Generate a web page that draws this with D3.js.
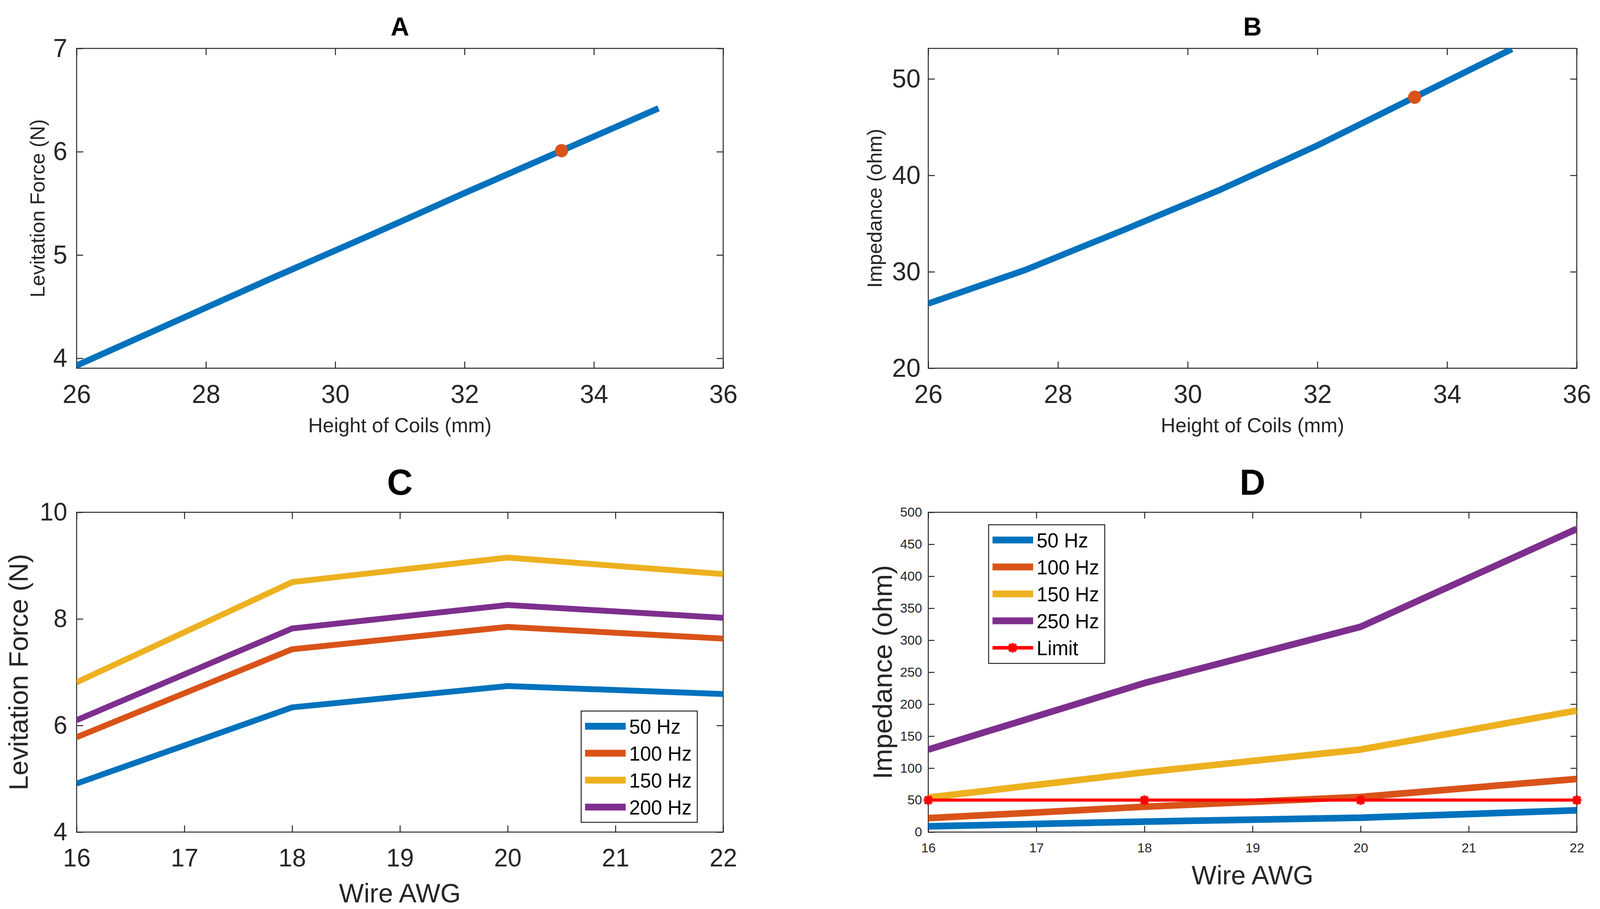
<!DOCTYPE html>
<html>
<head>
<meta charset="utf-8">
<script src="https://cdn.jsdelivr.net/npm/d3@7"></script>
<style>
  html, body { margin: 0; padding: 0; background: #fff; overflow: hidden; width: 100%; height: 100%; }
  svg { display: block; width: 100vw; height: 100vh; }
</style>
</head>
<body>
<svg id="fig"></svg>
<script>
// ---- data ----
const heightCoils = [26, 27.5, 29, 30.5, 32, 33.5, 35];
const forceA = [3.93, 4.35, 4.77, 5.18, 5.6, 6.01, 6.42];
const impedanceB = [26.7, 30.2, 34.3, 38.5, 43.1, 48.1, 53.1];
const chosenHeight = 33.5;
const chosenForce = 6.01;
const chosenImpedance = 48.1;

const wireAWG = [16, 18, 20, 22];
const forceC50 = [4.91, 6.34, 6.74, 6.59];
const forceC100 = [5.78, 7.43, 7.85, 7.63];
const forceC150 = [6.81, 8.69, 9.15, 8.84];
const forceC200 = [6.1, 7.82, 8.26, 8.02];

const impD50 = [9, 16.4, 22.5, 34];
const impD100 = [21.8, 39.6, 55, 83];
const impD150 = [54, 93.5, 129, 190];
const impD250 = [129, 233, 321, 474];
const impLimit = [50, 50, 50, 50];

const labelsC = ["50 Hz", "100 Hz", "150 Hz", "200 Hz"];
const labelsD = ["50 Hz", "100 Hz", "150 Hz", "250 Hz", "Limit"];

const ticksHeight = [26, 28, 30, 32, 34, 36];
const ticksForceA = [4, 5, 6, 7];
const ticksImpB = [20, 30, 40, 50];
const ticksAWG = [16, 17, 18, 19, 20, 21, 22];
const ticksForceC = [4, 6, 8, 10];
const ticksImpD = [0, 50, 100, 150, 200, 250, 300, 350, 400, 450, 500];

const colors = ["#0072BD", "#D95319", "#EDB120", "#7E2F8E"];
const ink = "#262626";
const font = "'Liberation Sans', Arial, sans-serif";
const fmt = d3.format("d");

const W = 4135, H = 2328;
// stretch the drawing onto whatever the viewport really is
const svg = d3.select("#fig")
  .attr("viewBox", "0 0 " + W + " " + H)
  .attr("preserveAspectRatio", "none");
svg.append("rect").attr("width", W).attr("height", H).attr("fill", "#fff");
const defs = svg.append("defs");

function panel(o) {
  const g = svg.append("g");
  const x = d3.scaleLinear().domain(o.xdom).range([o.left, o.right]);
  const y = d3.scaleLinear().domain(o.ydom).range([o.bottom, o.top]);

  const clipId = "clip" + o.title;
  defs.append("clipPath").attr("id", clipId)
    .append("rect")
    .attr("x", o.left).attr("y", o.top)
    .attr("width", o.right - o.left).attr("height", o.bottom - o.top);

  const style = (sel, size) => {
    sel.attr("font-size", size).attr("font-family", font);
    sel.select(".domain").remove();
    sel.selectAll("line").attr("stroke", ink).attr("stroke-width", 2.5);
    sel.selectAll("text").attr("fill", ink);
  };

  g.append("g")
    .attr("transform", "translate(0," + o.bottom + ")")
    .call(d3.axisBottom(x).tickValues(o.xticks).tickFormat(fmt)
      .tickSizeInner(-o.tick).tickSizeOuter(0).tickPadding(o.xpad))
    .call(style, o.tickFont);
  g.append("g")
    .attr("transform", "translate(0," + o.top + ")")
    .call(d3.axisTop(x).tickValues(o.xticks).tickSizeInner(-o.tick)
      .tickSizeOuter(0).tickFormat(""))
    .call(style, o.tickFont);
  g.append("g")
    .attr("transform", "translate(" + o.left + ",0)")
    .call(d3.axisLeft(y).tickValues(o.yticks).tickFormat(fmt)
      .tickSizeInner(-o.tick).tickSizeOuter(0).tickPadding(o.ypad))
    .call(style, o.tickFont);
  g.append("g")
    .attr("transform", "translate(" + o.right + ",0)")
    .call(d3.axisRight(y).tickValues(o.yticks).tickSizeInner(-o.tick)
      .tickSizeOuter(0).tickFormat(""))
    .call(style, o.tickFont);

  g.append("rect")
    .attr("x", o.left).attr("y", o.top)
    .attr("width", o.right - o.left).attr("height", o.bottom - o.top)
    .attr("fill", "none").attr("stroke", ink).attr("stroke-width", 2.5);

  // titles and labels
  const cx = (o.left + o.right) / 2, cy = (o.top + o.bottom) / 2;
  g.append("text").attr("x", cx).attr("y", o.titleY)
    .attr("text-anchor", "middle").attr("font-family", font)
    .attr("font-weight", "bold").attr("font-size", o.titleFont)
    .attr("fill", "#000").text(o.title);
  g.append("text").attr("x", cx).attr("y", o.xlabelY)
    .attr("text-anchor", "middle").attr("font-family", font)
    .attr("font-size", o.xlabelFont).attr("fill", ink).text(o.xlabel);
  g.append("text")
    .attr("transform", "translate(" + o.ylabelX + "," + cy + ") rotate(-90)")
    .attr("text-anchor", "middle").attr("font-family", font)
    .attr("font-size", o.ylabelFont).attr("fill", ink).text(o.ylabel);

  return { g: g, x: x, y: y, clip: "url(#" + clipId + ")" };
}

function drawLine(p, xs, ys, color, width) {
  const line = d3.line().x((d, i) => p.x(xs[i])).y((d) => p.y(d));
  p.g.append("path")
    .attr("clip-path", p.clip)
    .attr("d", line(ys))
    .attr("fill", "none")
    .attr("stroke", color)
    .attr("stroke-width", width)
    .attr("stroke-linejoin", "round");
}

// MATLAB-style '*' marker
function star(g, cx, cy, r, color) {
  const s = g.append("g").attr("transform", "translate(" + cx + "," + cy + ")")
    .attr("stroke", color).attr("stroke-width", 7);
  const k = r * 0.75;
  [[-r, 0, r, 0], [0, -r, 0, r], [-k, -k, k, k], [-k, k, k, -k]]
    .forEach((l) => s.append("line").attr("x1", l[0]).attr("y1", l[1]).attr("x2", l[2]).attr("y2", l[3]));
}

function legend(g, left, top, w, h, labels, cols, limitIdx) {
  g.append("rect").attr("x", left).attr("y", top).attr("width", w).attr("height", h)
    .attr("fill", "#fff").attr("stroke", ink).attr("stroke-width", 2.5);
  labels.forEach((lab, i) => {
    const cy = top + 39 + i * 69;
    const isLimit = i === limitIdx;
    g.append("line").attr("x1", left + 10).attr("x2", left + 115)
      .attr("y1", cy).attr("y2", cy)
      .attr("stroke", cols[i]).attr("stroke-width", isLimit ? 9 : 17.5);
    if (isLimit) star(g, left + 62, cy, 12, cols[i]);
    g.append("text").attr("x", left + 124).attr("y", cy + 19)
      .attr("font-family", font).attr("font-size", 51).attr("fill", "#000").text(lab);
  });
}

// ---- A ----
const pA = panel({
  title: "A", left: 198, right: 1869, top: 124, bottom: 943,
  xdom: [26, 36], ydom: [3.904, 7], xticks: ticksHeight, yticks: ticksForceA,
  tick: 17, tickFont: 66, xpad: 42, ypad: 24,
  titleY: 91, titleFont: 66,
  xlabel: "Height of Coils (mm)", xlabelY: 1107, xlabelFont: 52,
  ylabel: "Levitation Force (N)", ylabelX: 115, ylabelFont: 52
});
drawLine(pA, heightCoils, forceA, colors[0], 16);
pA.g.append("circle").attr("cx", pA.x(chosenHeight)).attr("cy", pA.y(chosenForce))
  .attr("r", 17).attr("fill", colors[1]);

// ---- B ----
const pB = panel({
  title: "B", left: 2399, right: 4075, top: 124, bottom: 943,
  xdom: [26, 36], ydom: [20, 53.16], xticks: ticksHeight, yticks: ticksImpB,
  tick: 17, tickFont: 66, xpad: 42, ypad: 20,
  titleY: 91, titleFont: 66,
  xlabel: "Height of Coils (mm)", xlabelY: 1107, xlabelFont: 52,
  ylabel: "Impedance (ohm)", ylabelX: 2278, ylabelFont: 52
});
drawLine(pB, heightCoils, impedanceB, colors[0], 16);
pB.g.append("circle").attr("cx", pB.x(chosenHeight)).attr("cy", pB.y(chosenImpedance))
  .attr("r", 17).attr("fill", colors[1]);

// ---- C ----
const pC = panel({
  title: "C", left: 198, right: 1869, top: 1312, bottom: 2131,
  xdom: [16, 22], ydom: [4, 10], xticks: ticksAWG, yticks: ticksForceC,
  tick: 17, tickFont: 64, xpad: 43, ypad: 24,
  titleY: 1267, titleFont: 92,
  xlabel: "Wire AWG", xlabelY: 2311, xlabelFont: 68,
  ylabel: "Levitation Force (N)", ylabelX: 72, ylabelFont: 69
});
[forceC50, forceC100, forceC150, forceC200].forEach((s, i) => drawLine(pC, wireAWG, s, colors[i], 15));
legend(pC.g, 1502, 1821, 300, 285, labelsC, colors, -1);

// ---- D ----
const pD = panel({
  title: "D", left: 2399, right: 4075, top: 1312, bottom: 2131,
  xdom: [16, 22], ydom: [0, 500], xticks: ticksAWG, yticks: ticksImpD,
  tick: 16, tickFont: 34, xpad: 28, ypad: 16,
  titleY: 1267, titleFont: 92,
  xlabel: "Wire AWG", xlabelY: 2265, xlabelFont: 68,
  ylabel: "Impedance (ohm)", ylabelX: 2305, ylabelFont: 70
});
[impD50, impD100, impD150, impD250].forEach((s, i) => drawLine(pD, wireAWG, s, colors[i], 17));
drawLine(pD, wireAWG, impLimit, "#FF0000", 8);
wireAWG.forEach((w, i) => star(pD.g, pD.x(w), pD.y(impLimit[i]), 12, "#FF0000"));
legend(pD.g, 2555, 1344, 300, 355, labelsD, colors.concat(["#FF0000"]), 4);
</script>
</body>
</html>
